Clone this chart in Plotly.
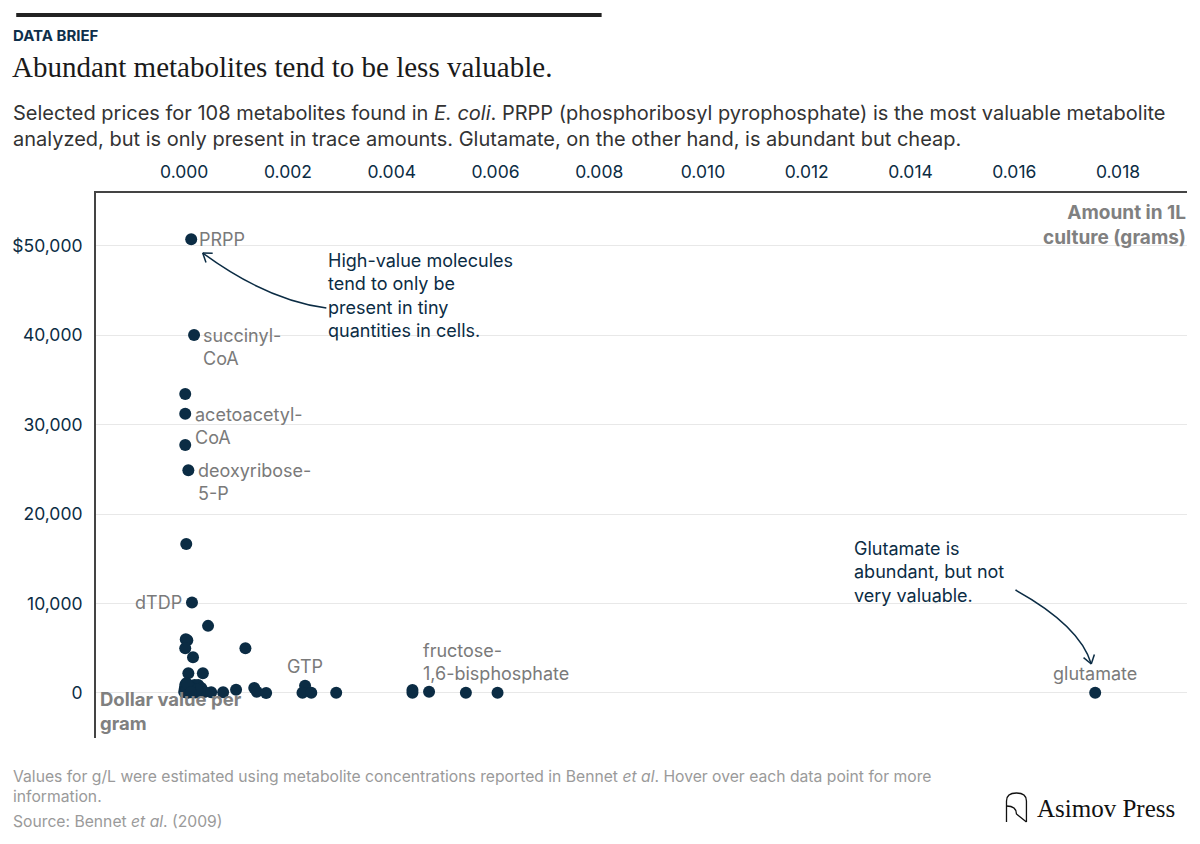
import math
import plotly.graph_objects as go

# amount of each metabolite in 1 L culture (grams) and price (dollars per gram)
amount_g = [0.000135, 0.00019, 0.00002, 0.00002, 0.00002, 0.00008, 0.00004, 0.00015,
            0.00046, 0.00006, 0.00003, 0.00002, 0.00017, 0.00118, 0.00008, 0.00036,
            0.00004, 0.00010, 0.00020, 0.00027, 0.00033, 0.00002, 0.00006, 0.00013,
            0.00021, 0.00029, 0.00000, 0.00039, 0.00052, 0.00075, 0.00100, 0.00135,
            0.00140, 0.00158, 0.00233, 0.00228, 0.00245, 0.00293, 0.00440, 0.00440,
            0.00472, 0.00543, 0.00604, 0.01756,
            0.00001, 0.00003, 0.00005, 0.00007, 0.00009, 0.00011, 0.00004, 0.00006,
            0.00012, 0.00016, 0.00002, 0.00008, 0.00014, 0.00018, 0.00022, 0.00025,
            0.00010, 0.00003, 0.00006, 0.00013]
price_usd = [50700, 40000, 33400, 31200, 27700, 24900, 16650, 10100,
             7500, 5900, 6000, 5000, 4000, 5000, 2200, 2200,
             1100, 780, 900, 900, 560, 560, 220, 330,
             220, 110, 100, 100, 80, 90, 350, 560,
             150, 10, 800, 20, 20, 20, 340, 30,
             150, 30, 30, 30,
             450, 320, 180, 600, 400, 150, 60, 800,
             250, 500, 900, 40, 120, 350, 60, 420,
             700, 250, 1000, 80]
names = ["PRPP", "succinyl-CoA", "", "acetoacetyl-CoA", "", "deoxyribose-5-P", "", "dTDP",
         "", "", "", "", "", "", "", "",
         "", "", "", "", "", "", "", "",
         "", "", "", "", "", "", "", "",
         "", "", "GTP", "", "", "", "", "",
         "", "", "fructose-1,6-bisphosphate", "glutamate"] + [""] * 20

x_ticks = [0.000, 0.002, 0.004, 0.006, 0.008, 0.010, 0.012, 0.014, 0.016, 0.018]
y_ticks = [0, 10000, 20000, 30000, 40000, 50000]
y_ticktext = ["0", "10,000", "20,000", "30,000", "40,000", "$50,000"]

# label text and placement: (text, xanchor, yanchor, xshift, yshift)
label_style = {
    "PRPP": ("PRPP", "left", "middle", 6, 0),
    "succinyl-CoA": ("succinyl-<br>CoA", "left", "top", 7, 12),
    "acetoacetyl-CoA": ("acetoacetyl-<br>CoA", "left", "top", 8, 12),
    "deoxyribose-5-P": ("deoxyribose-<br>5-P", "left", "top", 8, 12),
    "dTDP": ("dTDP", "right", "middle", -8, 0),
    "GTP": ("GTP", "center", "bottom", 0, 7),
    "fructose-1,6-bisphosphate": ("fructose-<br>1,6-bisphosphate", "center", "bottom", -2, 7),
    "glutamate": ("glutamate", "center", "bottom", 0, 7),
}

NAVY = "#0b2c44"
GREY = "#7a7a7a"
FONT = "Inter"

# plot area in pixels: left 93, right 1187, top 193, bottom 738
def paper(xp, yp):
    return (xp - 93) / 1094, (738 - yp) / 545


fig = go.Figure()
fig.add_trace(go.Scatter(
    x=amount_g, y=price_usd, mode="markers",
    marker=dict(size=12, color=NAVY),
    hovertext=[n if n else "metabolite" for n in names],
    hovertemplate="%{hovertext}<br>%{x:.5f} g<br>$%{y:,.0f} per gram<extra></extra>",
))

annotations = []
for n, xv, yv in zip(names, amount_g, price_usd):
    if n in label_style:
        txt, xa, ya, xs, ys = label_style[n]
        annotations.append(dict(x=xv, y=yv, xref="x", yref="y", text=txt, showarrow=False,
                                xanchor=xa, yanchor=ya, xshift=xs, yshift=ys, align="left",
                                font=dict(family=FONT, size=18, color=GREY)))


def text_at(xp, yp, text, size, color, xanchor="left", yanchor="middle", family=FONT,
            align="left"):
    x, y = paper(xp, yp)
    shift = -5 if xanchor == "left" else 2
    annotations.append(dict(x=x, y=y, xref="paper", yref="paper", text=text, showarrow=False,
                            xanchor=xanchor, yanchor=yanchor, align=align, xshift=shift,
                            font=dict(family=family, size=size, color=color)))


# header
text_at(13, 35, "<b>DATA BRIEF</b>", 15, "#0f2f4a")
text_at(12, 67, "Abundant metabolites tend to be less valuable.", 29, "#1a1a1a",
        family="Liberation Serif")
text_at(13, 126, "Selected prices for 108 metabolites found in <i>E. coli</i>. PRPP (phosphoribosyl "
        "pyrophosphate) is the most valuable metabolite<br>analyzed, but is only present in trace "
        "amounts. Glutamate, on the other hand, is abundant but cheap.", 20, "#333333")

# axis titles
text_at(1186, 225, "<b>Amount in 1L<br>culture (grams)</b>", 19, "#808080", xanchor="right",
        align="right")
text_at(100, 711, "<b>Dollar value per<br>gram</b>", 18.5, "#808080")

# callouts
text_at(329, 295, "High-value molecules<br>tend to only be<br>present in tiny<br>quantities in cells.",
        18, NAVY)
text_at(856, 572, "Glutamate is<br>abundant, but not<br>very valuable.", 18, NAVY)

# footer
text_at(13, 786, "Values for g/L were estimated using metabolite concentrations reported in "
        "Bennet <i>et al</i>. Hover over each data point for more<br>information.", 15.7, "#9a9a9a")
text_at(13, 821, "Source: Bennet <i>et al</i>. (2009)", 15.7, "#9a9a9a")
text_at(1040, 808, "Asimov Press", 25, "#111111", family="Liberation Serif")

shapes = []
# top rule
x0, y0 = paper(13, 15)
x1, _ = paper(600, 15)
shapes.append(dict(type="line", xref="paper", yref="paper", x0=x0, x1=x1, y0=y0, y1=y0,
                   line=dict(color="#222222", width=4)))


def curved_arrow(p0, c, p2):
    pts = [paper(*p0), paper(*c), paper(*p2)]
    path = "M {0},{1} Q {2},{3} {4},{5}".format(*[v for p in pts for v in p])
    shapes.append(dict(type="path", xref="paper", yref="paper", path=path,
                       line=dict(color=NAVY, width=1.5)))
    dx, dy = p2[0] - c[0], p2[1] - c[1]
    d = math.hypot(dx, dy)
    bx, by = -dx / d, -dy / d
    for ang in (0.6, -0.6):
        rx = bx * math.cos(ang) - by * math.sin(ang)
        ry = bx * math.sin(ang) + by * math.cos(ang)
        hx, hy = paper(p2[0] + 10 * rx, p2[1] + 10 * ry)
        tx, ty = paper(*p2)
        shapes.append(dict(type="line", xref="paper", yref="paper", x0=tx, y0=ty, x1=hx, y1=hy,
                           line=dict(color=NAVY, width=1.5)))


curved_arrow((324, 308), (264, 300), (200, 253))
curved_arrow((1015, 590), (1080, 626), (1091, 664))

# logo mark: arch outline with a leg, like the press emblem
lx = [paper(1006, 822), paper(1006, 801), paper(1006, 793), paper(1016, 793),
      paper(1026, 793), paper(1026, 801), paper(1026, 822)]
logo_path = ("M {} {} L {} {} Q {} {} {} {} Q {} {} {} {} L {} {}"
             .format(*[v for p in lx for v in p]))
shapes.append(dict(type="path", xref="paper", yref="paper", path=logo_path,
                   line=dict(color="#111111", width=1.3)))
la = [paper(1006, 806), paper(1016, 806), paper(1016, 814), paper(1026, 822)]
shapes.append(dict(type="path", xref="paper", yref="paper",
                   path="M {} {} Q {} {} {} {} L {} {}".format(*[v for p in la for v in p]),
                   line=dict(color="#111111", width=1.3)))

fig.update_layout(
    width=1200, height=844,
    margin=dict(l=93, r=13, t=193, b=106),
    paper_bgcolor="white", plot_bgcolor="white",
    showlegend=False,
    font=dict(family=FONT, color=NAVY),
    annotations=annotations,
    shapes=shapes,
    xaxis=dict(side="top", range=[-0.00170, 0.01933], tickvals=x_ticks, tickformat=".3f",
               showgrid=False, zeroline=False, showline=True, linecolor="#444444", linewidth=2,
               ticks="", ticklabelstandoff=6, tickfont=dict(family=FONT, size=17.5, color=NAVY)),
    yaxis=dict(range=[-5030, 55870], tickvals=y_ticks, ticktext=y_ticktext,
               showgrid=True, gridcolor="#e8e8e8", gridwidth=1, zeroline=False,
               showline=True, linecolor="#444444", linewidth=2, ticks="",
               ticklabelstandoff=8, tickfont=dict(family=FONT, size=17.5, color=NAVY)),
)

# drop the page's default body margin so the figure sits at the window's top-left corner
fig.write_html("out.html", config={"displayModeBar": False},
               post_script="document.body.style.margin = '0';")
